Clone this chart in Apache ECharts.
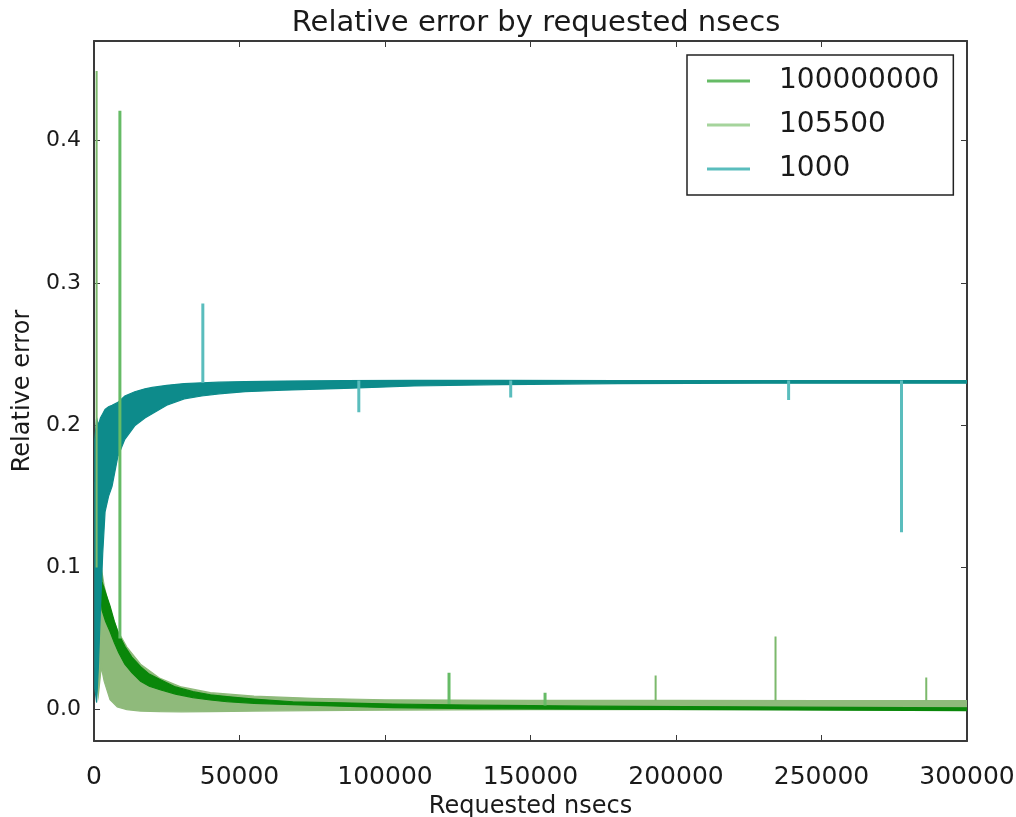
<!DOCTYPE html>
<html>
<head>
<meta charset="utf-8">
<script src="https://cdn.jsdelivr.net/npm/echarts@6/dist/echarts.min.js"></script>
</head>
<body style="margin:0">
<div id="container" style="width:1016px;height:817px"></div>
<script>
var names = ['100000000', '105500', '1000'];
var yTicks = [0, 0.1, 0.2, 0.3, 0.4];

// 100000000: dense band (upper / lower edge) and isolated spikes
var darkX  = [2000, 2750, 4000, 5500, 7000, 8500, 10600, 13000, 16000, 19000, 22700, 28000, 34000, 40000, 45700, 55000, 68300, 85000, 102700, 130000, 170000, 220000, 260000, 300000];
var darkHi = [0.115, 0.09, 0.082, 0.073, 0.062, 0.053, 0.0445, 0.037, 0.0303, 0.025, 0.0212, 0.016, 0.0127, 0.0105, 0.0092, 0.0075, 0.0056, 0.0048, 0.004, 0.0032, 0.0025, 0.002, 0.0016, 0.0013];
var darkLo = [0.09, 0.07, 0.062, 0.055, 0.047, 0.04, 0.032, 0.026, 0.02, 0.0165, 0.014, 0.011, 0.0085, 0.0068, 0.0056, 0.0045, 0.0035, 0.0025, 0.0014, 0.0008, 0.0003, 0.0, -0.0003, -0.0006];
var darkSpikeX    = [8900, 122000, 155000];
var darkSpikeBase = [0.05, 0.004, 0.003];
var darkSpikeTop  = [0.421, 0.026, 0.012];

// 105500
var lightX  = [500, 1500, 2500, 3500, 5500, 8000, 11300, 16000, 22700, 30000, 40000, 55000, 75000, 100000, 150000, 200000, 250000, 300000];
var lightHi = [0.16, 0.12, 0.1, 0.087, 0.07, 0.056, 0.044, 0.032, 0.022, 0.016, 0.012, 0.0095, 0.008, 0.007, 0.0066, 0.0065, 0.0064, 0.0064];
var lightLo = [0.03, 0.01, 0.03, 0.02, 0.007, 0.002, 0.0, -0.001, -0.0014, -0.0015, -0.0014, -0.001, -0.0006, -0.0003, 0.0, 0.0, 0.0, 0.0];
var lightSpikeX    = [900, 193000, 234200, 286000];
var lightSpikeBase = [0.1, 0.0064, 0.0064, 0.0064];
var lightSpikeTop  = [0.449, 0.024, 0.0515, 0.0226];

// 1000
var tealX  = [300, 900, 1500, 2200, 3000, 3800, 5000, 6200, 8200, 10600, 14000, 17500, 20000, 25000, 31000, 37000, 43000, 52000, 65000, 86000, 110000, 140000, 180000, 230000, 300000];
var tealHi = [0.19, 0.205, 0.2, 0.205, 0.208, 0.211, 0.213, 0.214, 0.216, 0.2205, 0.2235, 0.2255, 0.2265, 0.228, 0.2292, 0.2298, 0.2302, 0.2306, 0.231, 0.2313, 0.2314, 0.2314, 0.2313, 0.2313, 0.2313];
var tealLo = [0.015, 0.005, 0.03, 0.07, 0.11, 0.139, 0.15, 0.157, 0.178, 0.19, 0.1995, 0.205, 0.208, 0.214, 0.2185, 0.2205, 0.222, 0.2235, 0.2246, 0.2258, 0.2275, 0.2285, 0.2292, 0.2295, 0.2295];
var tealSpikeX    = [37400, 91000, 143200, 238700, 277500];
var tealSpikeBase = [0.2298, 0.2313, 0.2314, 0.2313, 0.2313];
var tealSpikeTop  = [0.2855, 0.209, 0.2195, 0.2176, 0.1247];

var legendColors = ['#66bb66', '#a5d49c', '#5abdbd'];
var font = 'DejaVu Sans';
var ink = '#1a1a1a';
var frame = '#3a3a3a';

function spikes(xs, base, top) {
    var d = [];
    xs.forEach(function (x, i) {
        d.push([x, base[i]], [x, top[i]], [x, '-']);
    });
    return d;
}

// band drawn as one polygon: upper edge left->right, lower edge back
function band(name, xs, hi, lo, color) {
    return {
        type: 'custom', name: name, silent: true, clip: true,
        data: xs.map(function (x, i) { return [x, hi[i], lo[i]]; }),
        encode: { x: 0, y: [1, 2] },
        renderItem: function (params, api) {
            if (params.dataIndex !== 0) return null;
            var pts = [];
            for (var i = 0; i < xs.length; i++) pts.push(api.coord([xs[i], hi[i]]));
            for (var j = xs.length - 1; j >= 0; j--) pts.push(api.coord([xs[j], lo[j]]));
            return {
                type: 'polygon',
                shape: { points: pts },
                style: { fill: color, stroke: color, lineWidth: 1.2 }
            };
        }
    };
}
function spikeSeries(name, xs, base, top, color, width) {
    return {
        type: 'line', name: name, data: spikes(xs, base, top),
        symbol: 'none', silent: true, connectNulls: false,
        lineStyle: { width: width, color: color }
    };
}

var myChart = echarts.init(document.getElementById('container'));

var axisCommon = {
    axisLine: { show: true, onZero: false, lineStyle: { color: frame, width: 2 } },
    axisTick: { show: true, inside: true, length: 6, lineStyle: { color: frame, width: 1 } },
    splitLine: { show: false }
};

var option = {
    backgroundColor: '#fff',
    animation: false,
    title: {
        text: 'Relative error by requested nsecs',
        left: 531, top: 4, textAlign: 'center',
        textStyle: { fontFamily: font, fontSize: 29, fontWeight: 'normal', color: ink }
    },
    legend: {
        orient: 'vertical', left: 687, top: 55,
        data: names.map(function (n, i) {
            return { name: n, icon: 'rect', itemStyle: { color: legendColors[i], opacity: 1 } };
        }),
        itemWidth: 43, itemHeight: 3, itemGap: 16,
        padding: [12, 14, 12, 20],
        borderColor: '#222', borderWidth: 1.5, borderRadius: 0,
        backgroundColor: '#fff',
        selectedMode: false,
        textStyle: { fontFamily: font, fontSize: 28, color: ink, padding: [0, 0, 0, 24] }
    },
    grid: { left: 94, right: 49, top: 41, bottom: 76, containLabel: false, outerBoundsMode: 'none' },
    xAxis: [
        Object.assign({}, axisCommon, {
            type: 'value', position: 'bottom', min: 0, max: 300000, interval: 50000,
            name: 'Requested nsecs', nameLocation: 'middle', nameGap: 51,
            nameTextStyle: { fontFamily: font, fontSize: 24, color: ink },
            axisLabel: {
                fontFamily: font, fontSize: 25, color: ink, margin: 24,
                formatter: function (v) { return String(v); }
            }
        }),
        Object.assign({}, axisCommon, {
            type: 'value', position: 'top', min: 0, max: 300000, interval: 50000,
            axisLabel: { show: false }
        })
    ],
    yAxis: [
        Object.assign({}, axisCommon, {
            type: 'value', position: 'left', min: -0.022, max: 0.47,
            name: 'Relative error', nameLocation: 'middle', nameGap: 49,
            nameTextStyle: { fontFamily: font, fontSize: 24, color: ink },
            axisTick: { show: true, inside: true, length: 6, customValues: yTicks, lineStyle: { color: frame, width: 1 } },
            axisLabel: {
                fontFamily: font, fontSize: 22, color: ink, margin: 13, customValues: yTicks,
                formatter: function (v) { return v.toFixed(1); }
            }
        }),
        Object.assign({}, axisCommon, {
            type: 'value', position: 'right', min: -0.022, max: 0.47,
            axisTick: { show: true, inside: true, length: 6, customValues: yTicks, lineStyle: { color: frame, width: 1 } },
            axisLabel: { show: false, customValues: yTicks }
        })
    ],
    series: [
        band('105500', lightX, lightHi, lightLo, '#8fba7b'),
        band('100000000', darkX, darkHi, darkLo, '#0a870a'),
        spikeSeries('105500', lightSpikeX, lightSpikeBase, lightSpikeTop, '#7cb96c', 2),
        spikeSeries('100000000', darkSpikeX, darkSpikeBase, darkSpikeTop, '#66bb66', 3),
        band('1000', tealX, tealHi, tealLo, '#0d8b8b'),
        spikeSeries('1000', tealSpikeX, tealSpikeBase, tealSpikeTop, '#5abdbd', 3)
    ]
};

myChart.setOption(option);
</script>
</body>
</html>
